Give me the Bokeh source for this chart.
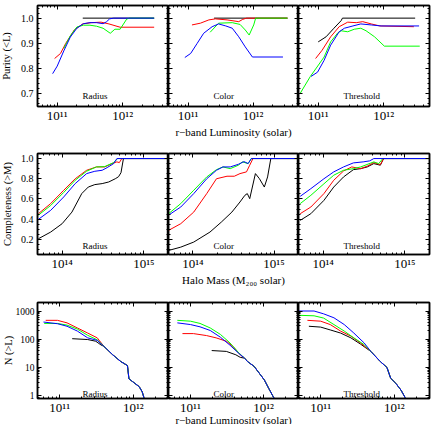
import math
import numpy as np
from bokeh.plotting import figure
from bokeh.layouts import column, row
from bokeh.models import Range1d, LogAxis, LinearAxis, FixedTicker, CustomJSTickFormatter, Label
from bokeh.embed import file_html
from bokeh.resources import INLINE

FONT = "Liberation Serif"
PANEL_NAMES = ["Radius", "Color", "Threshold"]
COL = {"k": "#000000", "r": "#ff0000", "g": "#00ff00", "b": "#0000ff"}

# ---------------- Row 1: Purity (<L) vs log10 r-band luminosity ----------------
PUR_RAD_K_X = [11.39, 12.48]
PUR_RAD_K_Y = [1.0, 1.0]
PUR_RAD_R_X = [10.96, 11.05, 11.13, 11.26, 11.39, 11.52, 11.67, 11.79, 11.96, 12.48]
PUR_RAD_R_Y = [0.84, 0.86, 0.90, 0.953, 0.977, 0.982, 0.984, 0.977, 0.964, 0.964]
PUR_RAD_G_X = [11.10, 11.2, 11.3, 11.4, 11.5, 11.6, 11.7, 11.81, 11.88, 11.96, 12.06, 12.10, 12.48]
PUR_RAD_G_Y = [0.88, 0.93, 0.965, 0.972, 0.972, 0.968, 0.96, 0.94, 0.956, 0.956, 0.996, 1.0, 1.0]
PUR_RAD_B_X = [10.93, 11.0, 11.1, 11.2, 11.3, 11.4, 11.5, 11.6, 11.7, 11.75, 11.8, 11.86, 12.48]
PUR_RAD_B_Y = [0.78, 0.81, 0.87, 0.925, 0.96, 0.978, 0.982, 0.982, 0.978, 0.985, 0.997, 1.0, 1.0]

PUR_COL_K_X = [11.40, 12.53]
PUR_COL_K_Y = [1.0, 1.0]
PUR_COL_R_X = [11.06, 11.19, 11.32, 11.42, 11.60, 11.78, 11.84, 11.90, 12.53]
PUR_COL_R_Y = [0.973, 0.98, 0.993, 0.997, 0.993, 0.986, 0.995, 1.0, 1.0]
PUR_COL_G_X = [11.34, 11.47, 11.68, 11.80, 11.88, 11.94, 12.01, 12.04, 12.53]
PUR_COL_G_Y = [0.944, 0.98, 0.982, 0.975, 0.953, 0.933, 0.973, 1.0, 1.0]
PUR_COL_B_X = [10.95, 11.04, 11.14, 11.24, 11.37, 11.47, 11.58, 11.68, 11.78, 11.88, 11.99, 12.46]
PUR_COL_B_Y = [0.844, 0.86, 0.90, 0.94, 0.966, 0.977, 0.969, 0.96, 0.926, 0.886, 0.846, 0.846]

PUR_THR_K_X = [11.0, 11.12, 11.24, 11.35, 11.37, 12.48]
PUR_THR_K_Y = [0.906, 0.926, 0.96, 0.99, 1.0, 1.0]
PUR_THR_R_X = [10.96, 11.06, 11.19, 11.32, 11.45, 11.58, 11.68, 11.81, 11.94, 12.46]
PUR_THR_R_Y = [0.84, 0.873, 0.926, 0.966, 0.984, 0.982, 0.986, 0.977, 0.969, 0.966]
PUR_THR_G_X = [10.72, 10.88, 11.09, 11.19, 11.30, 11.35, 11.45, 11.55, 11.65, 11.73, 11.86, 12.01, 12.55]
PUR_THR_G_Y = [0.70, 0.769, 0.846, 0.906, 0.942, 0.950, 0.946, 0.956, 0.96, 0.95, 0.926, 0.889, 0.889]
PUR_THR_B_X = [10.89, 10.99, 11.09, 11.19, 11.32, 11.40, 11.53, 11.65, 11.81, 11.96, 12.54]
PUR_THR_B_Y = [0.769, 0.786, 0.833, 0.893, 0.946, 0.96, 0.969, 0.977, 0.973, 0.969, 0.969]

# ---------------- Row 2: Completeness (>M) vs log10 halo mass ----------------
COM_RAD_K_X = [13.71, 13.86, 14.0, 14.12, 14.24, 14.32, 14.40, 14.49, 14.57, 14.65, 14.69, 14.72, 14.75, 15.35]
COM_RAD_K_Y = [0.206, 0.272, 0.355, 0.47, 0.653, 0.718, 0.742, 0.752, 0.768, 0.80, 0.82, 0.86, 1.0, 1.0]
COM_RAD_R_X = [13.71, 13.86, 14.02, 14.16, 14.30, 14.42, 14.52, 14.61, 14.67, 14.70, 14.73, 15.35]
COM_RAD_R_Y = [0.454, 0.554, 0.686, 0.80, 0.884, 0.917, 0.917, 0.95, 0.967, 0.96, 1.0, 1.0]
COM_RAD_G_X = [13.71, 13.86, 14.02, 14.16, 14.30, 14.42, 14.52, 14.63, 14.68, 15.35]
COM_RAD_G_Y = [0.44, 0.535, 0.665, 0.785, 0.875, 0.917, 0.92, 0.96, 1.0, 1.0]
COM_RAD_B_X = [13.71, 13.86, 14.02, 14.16, 14.30, 14.40, 14.49, 14.55, 14.63, 14.67, 15.35]
COM_RAD_B_Y = [0.398, 0.487, 0.62, 0.752, 0.851, 0.874, 0.884, 0.91, 0.95, 1.0, 1.0]

COM_COL_K_X = [13.70, 13.85, 14.01, 14.21, 14.35, 14.48, 14.58, 14.64, 14.67, 14.70, 14.77, 14.82, 14.88, 14.92, 14.96, 15.35]
COM_COL_K_Y = [0.09, 0.123, 0.173, 0.272, 0.371, 0.47, 0.57, 0.636, 0.653, 0.603, 0.851, 0.80, 0.718, 0.818, 1.0, 1.0]
COM_COL_R_X = [13.70, 13.85, 14.01, 14.17, 14.29, 14.42, 14.51, 14.58, 14.66, 14.70, 14.74, 15.35]
COM_COL_R_Y = [0.289, 0.355, 0.47, 0.653, 0.80, 0.825, 0.825, 0.851, 0.868, 0.934, 1.0, 1.0]
COM_COL_G_X = [13.70, 13.85, 14.01, 14.17, 14.29, 14.37, 14.46, 14.56, 14.61, 14.68, 14.72, 15.35]
COM_COL_G_Y = [0.454, 0.554, 0.686, 0.818, 0.89, 0.917, 0.90, 0.934, 0.967, 0.95, 1.0, 1.0]
COM_COL_B_X = [13.70, 13.85, 14.01, 14.17, 14.29, 14.37, 14.46, 14.56, 14.63, 14.68, 14.72, 15.35]
COM_COL_B_Y = [0.44, 0.52, 0.653, 0.80, 0.884, 0.917, 0.917, 0.943, 0.97, 0.95, 1.0, 1.0]

COM_THR_K_X = [13.72, 13.85, 14.01, 14.13, 14.25, 14.37, 14.46, 14.54, 14.62, 14.70, 14.74, 15.35]
COM_THR_K_Y = [0.388, 0.454, 0.586, 0.718, 0.818, 0.89, 0.90, 0.917, 0.95, 0.934, 1.0, 1.0]
COM_THR_R_X = [13.72, 13.85, 14.01, 14.13, 14.25, 14.35, 14.46, 14.54, 14.62, 14.70, 14.74, 15.35]
COM_THR_R_Y = [0.454, 0.52, 0.653, 0.785, 0.877, 0.917, 0.90, 0.925, 0.96, 0.94, 1.0, 1.0]
COM_THR_G_X = [13.72, 13.85, 14.01, 14.13, 14.25, 14.37, 14.46, 14.62, 14.68, 14.73, 15.35]
COM_THR_G_Y = [0.554, 0.636, 0.75, 0.835, 0.884, 0.90, 0.917, 0.967, 0.95, 1.0, 1.0]
COM_THR_B_X = [13.72, 13.85, 14.01, 14.13, 14.25, 14.37, 14.49, 14.57, 14.62, 15.35]
COM_THR_B_Y = [0.626, 0.702, 0.80, 0.868, 0.917, 0.957, 0.967, 0.977, 1.0, 1.0]

# ---------------- Row 3: N(>L) vs log10 luminosity (values are log10 N) ----------------
NUM_RAD_TAIL_X = [11.60, 11.72, 11.83, 11.92, 11.94, 11.99, 12.08, 12.12, 12.15]
NUM_RAD_TAIL_Y = [1.75, 1.45, 1.21, 1.07, 0.60, 0.50, 0.32, 0.14, -0.12]
NUM_RAD_K_X = [11.17, 11.38, 11.49, 11.56]
NUM_RAD_K_Y = [2.02, 1.99, 1.93, 1.80]
NUM_RAD_R_X = [10.81, 10.97, 11.10, 11.24, 11.38, 11.51]
NUM_RAD_R_Y = [2.67, 2.67, 2.58, 2.40, 2.22, 2.05]
NUM_RAD_G_X = [10.79, 10.97, 11.10, 11.24, 11.38, 11.51]
NUM_RAD_G_Y = [2.56, 2.56, 2.50, 2.36, 2.14, 1.98]
NUM_RAD_B_X = [10.78, 10.97, 11.10, 11.24, 11.38, 11.51]
NUM_RAD_B_Y = [2.61, 2.55, 2.46, 2.29, 2.05, 1.96]

NUM_COL_TAIL_X = [11.74, 11.78, 11.87, 11.94, 12.01, 12.07, 12.12, 12.15]
NUM_COL_TAIL_Y = [1.33, 1.21, 1.04, 0.80, 0.56, 0.26, 0.02, -0.12]
NUM_COL_K_X = [11.29, 11.49, 11.62, 11.68]
NUM_COL_K_Y = [1.60, 1.57, 1.45, 1.36]
NUM_COL_R_X = [10.89, 11.04, 11.22, 11.35, 11.49, 11.58, 11.68]
NUM_COL_R_Y = [2.20, 2.20, 2.13, 2.05, 1.93, 1.75, 1.45]
NUM_COL_G_X = [10.82, 11.0, 11.13, 11.27, 11.41, 11.54, 11.66]
NUM_COL_G_Y = [2.67, 2.64, 2.56, 2.40, 2.17, 1.87, 1.52]
NUM_COL_B_X = [10.82, 11.0, 11.13, 11.27, 11.41, 11.54, 11.66]
NUM_COL_B_Y = [2.58, 2.52, 2.44, 2.31, 2.07, 1.79, 1.50]

NUM_THR_TAIL_X = [11.68, 11.81, 11.90, 11.95, 12.02, 12.09, 12.15]
NUM_THR_TAIL_Y = [1.57, 1.21, 1.0, 0.62, 0.44, 0.20, -0.08]
NUM_THR_K_X = [10.84, 11.0, 11.13, 11.27, 11.41, 11.54]
NUM_THR_K_Y = [2.46, 2.43, 2.33, 2.22, 2.05, 1.83]
NUM_THR_R_X = [10.82, 11.0, 11.13, 11.27, 11.41, 11.54]
NUM_THR_R_Y = [2.67, 2.64, 2.52, 2.29, 2.11, 1.87]
NUM_THR_G_X = [10.68, 10.91, 11.04, 11.18, 11.32, 11.45, 11.59]
NUM_THR_G_Y = [2.85, 2.83, 2.75, 2.52, 2.29, 2.05, 1.81]
NUM_THR_B_X = [10.68, 10.91, 11.04, 11.18, 11.32, 11.45, 11.59]
NUM_THR_B_Y = [3.0, 3.0, 2.90, 2.76, 2.52, 2.22, 1.87]

# ---------------- axes ----------------
LUM_TICKS = [1e11, 1e12]
MASS_TICKS = [1e14, 1e15]
PUR_TICKS = [0.7, 0.8, 0.9, 1.0]
COM_TICKS = [0.2, 0.4, 0.6, 0.8, 1.0]
NUM_TICKS = [1, 10, 100, 1000]
XTITLES = ["r\u2212band Luminosity (solar)", "Halo Mass (M\u2082\u2080\u2080 solar)", "r\u2212band Luminosity (solar)"]
YTITLES = ["Purity (<L)", "Completeness (>M)", "N (>L)"]

LEFT_BORDER = 48      # generous left border of the left column (never overflows)
SHIFT = 11            # layout is moved left so the first frame starts at x = 37


def decade_minors(e0, e1):
    return [k * 10.0 ** e for e in range(e0, e1 + 1) for k in range(2, 10)]


SUPFMT = CustomJSTickFormatter(code="""
const sup = {"0":"\u2070","1":"\u00b9","2":"\u00b2","3":"\u00b3","4":"\u2074","5":"\u2075","6":"\u2076","7":"\u2077","8":"\u2078","9":"\u2079"};
const e = Math.round(Math.log10(tick));
return "10" + String(e).split("").map(c => sup[c]).join("");
""")
DEC1 = CustomJSTickFormatter(code="return tick.toFixed(1);")
INTF = CustomJSTickFormatter(code="return tick.toFixed(0);")
EMPTY = CustomJSTickFormatter(code="return '';")


def style_axis(ax, show, fmt=None, size="10px", standoff=4):
    ax.major_tick_in = 4
    ax.major_tick_out = 0
    ax.minor_tick_in = 2
    ax.minor_tick_out = 0
    ax.axis_line_color = "black"
    ax.axis_line_width = 1.5
    ax.major_tick_line_color = "black"
    ax.minor_tick_line_color = "black"
    if show:
        ax.formatter = fmt
        ax.major_label_text_font = FONT
        ax.major_label_text_font_size = size
        ax.major_label_text_color = "black"
        ax.major_label_standoff = standoff
    else:
        ax.formatter = EMPTY
        ax.major_label_text_font_size = "0px"
        ax.major_label_standoff = 0


def title_style(ax, text, size, standoff):
    ax.axis_label = text
    ax.axis_label_text_font = FONT
    ax.axis_label_text_font_size = size
    ax.axis_label_text_font_style = "normal"
    ax.axis_label_text_color = "black"
    ax.axis_label_standoff = standoff


def make_panel(ci, xr, yr, ylog, fh, bottom, xticks, xminor, yticks, yminor, yfmt, ysize,
               ystand, curves, lab_y, xtitle, xtitle_stand, ytitle, ytitle_stand):
    fw = [131, 130, 131][ci]
    p = figure(x_axis_type="log", y_axis_type="log" if ylog else "linear",
               x_range=Range1d(*xr), y_range=Range1d(*yr),
               frame_width=fw, frame_height=fh,
               min_border_left=LEFT_BORDER if ci == 0 else 0,
               min_border_right=3 if ci == 2 else 0,
               min_border_top=5, min_border_bottom=bottom,
               output_backend="svg", toolbar_location=None)
    p.grid.visible = False
    p.outline_line_color = "black"
    p.outline_line_width = 1.5
    p.background_fill_color = "white"
    p.border_fill_color = "white"
    xt = FixedTicker(ticks=xticks, minor_ticks=xminor)
    yt = FixedTicker(ticks=yticks, minor_ticks=yminor)
    xa = p.xaxis[0]
    ya = p.yaxis[0]
    xa.ticker = xt
    ya.ticker = yt
    style_axis(xa, True, SUPFMT, "13px", 1)
    style_axis(ya, ci == 0, yfmt, ysize, ystand)
    if ci == 1:
        title_style(xa, xtitle, "11px", xtitle_stand)
    if ci == 0:
        title_style(ya, ytitle, "10.5px", ytitle_stand)
    top = LogAxis(ticker=xt)
    style_axis(top, False)
    p.add_layout(top, "above")
    right = LogAxis(ticker=yt) if ylog else LinearAxis(ticker=yt)
    style_axis(right, False)
    p.add_layout(right, "right")
    for c, xs, ys in curves:
        xv = [10.0 ** v for v in xs]
        yv = [10.0 ** v for v in ys] if ylog else ys
        p.line(xv, yv, line_color=COL[c], line_width=1)
    lx0 = math.log10(xr[0])
    lx1 = math.log10(xr[1])
    ppd = fw / (lx1 - lx0)
    p.add_layout(Label(x=10 ** (lx0 + 45 / ppd), y=lab_y, text=PANEL_NAMES[ci], text_font=FONT,
                       text_font_size="9px", text_color="black", text_align="left",
                       text_baseline="middle"))
    return p


ROW1 = [
    [("k", PUR_RAD_K_X, PUR_RAD_K_Y), ("r", PUR_RAD_R_X, PUR_RAD_R_Y), ("g", PUR_RAD_G_X, PUR_RAD_G_Y), ("b", PUR_RAD_B_X, PUR_RAD_B_Y)],
    [("k", PUR_COL_K_X, PUR_COL_K_Y), ("r", PUR_COL_R_X, PUR_COL_R_Y), ("g", PUR_COL_G_X, PUR_COL_G_Y), ("b", PUR_COL_B_X, PUR_COL_B_Y)],
    [("k", PUR_THR_K_X, PUR_THR_K_Y), ("r", PUR_THR_R_X, PUR_THR_R_Y), ("g", PUR_THR_G_X, PUR_THR_G_Y), ("b", PUR_THR_B_X, PUR_THR_B_Y)],
]
ROW2 = [
    [("k", COM_RAD_K_X, COM_RAD_K_Y), ("r", COM_RAD_R_X, COM_RAD_R_Y), ("g", COM_RAD_G_X, COM_RAD_G_Y), ("b", COM_RAD_B_X, COM_RAD_B_Y)],
    [("k", COM_COL_K_X, COM_COL_K_Y), ("r", COM_COL_R_X, COM_COL_R_Y), ("g", COM_COL_G_X, COM_COL_G_Y), ("b", COM_COL_B_X, COM_COL_B_Y)],
    [("k", COM_THR_K_X, COM_THR_K_Y), ("r", COM_THR_R_X, COM_THR_R_Y), ("g", COM_THR_G_X, COM_THR_G_Y), ("b", COM_THR_B_X, COM_THR_B_Y)],
]
NUM_TAILS = [(NUM_RAD_TAIL_X, NUM_RAD_TAIL_Y), (NUM_COL_TAIL_X, NUM_COL_TAIL_Y), (NUM_THR_TAIL_X, NUM_THR_TAIL_Y)]
NUM_HEADS = [
    [("k", NUM_RAD_K_X, NUM_RAD_K_Y), ("r", NUM_RAD_R_X, NUM_RAD_R_Y), ("g", NUM_RAD_G_X, NUM_RAD_G_Y), ("b", NUM_RAD_B_X, NUM_RAD_B_Y)],
    [("k", NUM_COL_K_X, NUM_COL_K_Y), ("r", NUM_COL_R_X, NUM_COL_R_Y), ("g", NUM_COL_G_X, NUM_COL_G_Y), ("b", NUM_COL_B_X, NUM_COL_B_Y)],
    [("k", NUM_THR_K_X, NUM_THR_K_Y), ("r", NUM_THR_R_X, NUM_THR_R_Y), ("g", NUM_THR_G_X, NUM_THR_G_Y), ("b", NUM_THR_B_X, NUM_THR_B_Y)],
]
ROW3 = [[(c, hx + NUM_TAILS[i][0], hy + NUM_TAILS[i][1]) for c, hx, hy in NUM_HEADS[i]] for i in range(3)]

pur_minor = [round(v, 2) for v in np.arange(0.66, 1.05, 0.02)]
com_minor = [round(v, 2) for v in np.arange(0.05, 1.05, 0.05)]

r1 = [make_panel(i, (5e10, 5e12), (0.65, 1.05), False, 101, 42, LUM_TICKS, decade_minors(10, 12),
                 PUR_TICKS, pur_minor, DEC1, "10px", 4, ROW1[i], 0.69,
                 XTITLES[0], 0, YTITLES[0], 6) for i in range(3)]
r2 = [make_panel(i, (5e13, 2e15), (0.05, 1.05), False, 101, 43, MASS_TICKS, decade_minors(13, 15),
                 COM_TICKS, com_minor, DEC1, "10px", 4, ROW2[i], 0.139,
                 XTITLES[1], 0, YTITLES[1], 5) for i in range(3)]
r3 = [make_panel(i, (5e10, 3e12), (0.8, 2000), True, 96, 26, LUM_TICKS, decade_minors(10, 12),
                 NUM_TICKS, decade_minors(-1, 3), INTF, "9.5px", 3, ROW3[i], 1.2,
                 XTITLES[2], -4, YTITLES[2], -1) for i in range(3)]

layout = column(row(*r1), row(*r2), row(*r3), margin=(0, 0, 0, -SHIFT))

with open("out.html", "w", encoding="utf-8") as f:
    f.write(file_html(layout, INLINE, "Purity / Completeness"))
